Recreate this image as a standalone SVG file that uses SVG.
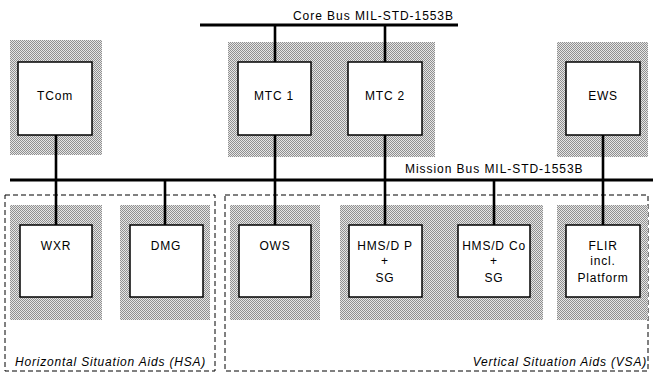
<svg xmlns="http://www.w3.org/2000/svg" width="653" height="373" viewBox="0 0 653 373">
<defs>
<pattern id="dots" width="2" height="2" patternUnits="userSpaceOnUse">
<rect width="2" height="2" fill="#e6e6e6"/>
<rect width="1" height="1" fill="#909090"/>
<rect x="1" y="1" width="1" height="1" fill="#909090"/>
</pattern>
</defs>
<style>
.shade{fill:url(#dots);}
.box{fill:#fff;stroke:#000;stroke-width:1.5;}
.lbl{font-family:"Liberation Sans",Arial,sans-serif;font-size:12px;letter-spacing:0.8px;fill:#000;text-anchor:middle;}
.bus{stroke:#000;stroke-width:3;fill:none;}
.conn{stroke:#000;stroke-width:2.6;fill:none;}
.grp{fill:none;stroke:#000;stroke-width:1;stroke-dasharray:5,3;}
.glbl{font-family:"Liberation Sans",Arial,sans-serif;font-size:12px;letter-spacing:0.8px;font-style:italic;fill:#000;}
.blbl{font-family:"Liberation Sans",Arial,sans-serif;font-size:12px;letter-spacing:0.95px;fill:#000;}
</style>
<rect width="653" height="373" fill="#fff"/>
<g id="groups">
<rect class="grp" x="5" y="195" width="210" height="176"/>
<text class="glbl" x="15" y="366">Horizontal Situation Aids (HSA)</text>
<rect class="grp" x="225" y="195" width="423" height="176"/>
<text class="glbl" x="647" y="366" text-anchor="end">Vertical Situation Aids (VSA)</text>
</g>
<g id="shades">
<rect class="shade" x="10" y="40" width="92" height="115"/>
<rect class="shade" x="228" y="42" width="207" height="115"/>
<rect class="shade" x="557" y="42" width="91" height="115"/>
<rect class="shade" x="10" y="205" width="92" height="115"/>
<rect class="shade" x="120" y="205" width="90" height="115"/>
<rect class="shade" x="230" y="205" width="90" height="115"/>
<rect class="shade" x="340" y="205" width="203" height="115"/>
<rect class="shade" x="557" y="205" width="91" height="115"/>
</g>
<g id="connectors">
<line class="bus" x1="200" y1="25" x2="458" y2="25"/>
<text class="blbl" x="293" y="20">Core Bus MIL-STD-1553B</text>
<line class="bus" x1="10" y1="180" x2="653" y2="180"/>
<text class="blbl" x="405" y="173">Mission Bus MIL-STD-1553B</text>
<line class="conn" x1="56" y1="135" x2="56" y2="225"/>
<line class="conn" x1="165" y1="180" x2="165" y2="225"/>
<line class="conn" x1="275" y1="25" x2="275" y2="225"/>
<line class="conn" x1="385" y1="25" x2="385" y2="225"/>
<line class="conn" x1="494" y1="180" x2="494" y2="225"/>
<line class="conn" x1="603" y1="135" x2="603" y2="225"/>
</g>
<g id="TCom"><rect class="box" x="18" y="62" width="74" height="73"/><text class="lbl" x="55" y="100">TCom</text></g>
<g id="MTC1"><rect class="box" x="238" y="62" width="73" height="73"/><text class="lbl" x="274" y="100">MTC 1</text></g>
<g id="MTC2"><rect class="box" x="348" y="62" width="74" height="73"/><text class="lbl" x="385" y="100">MTC 2</text></g>
<g id="EWS"><rect class="box" x="566" y="62" width="74" height="73"/><text class="lbl" x="603" y="100">EWS</text></g>
<g id="WXR"><rect class="box" x="20" y="225" width="72" height="72"/><text class="lbl" x="56" y="249.5">WXR</text></g>
<g id="DMG"><rect class="box" x="130" y="225" width="73" height="72"/><text class="lbl" x="166" y="249.5">DMG</text></g>
<g id="OWS"><rect class="box" x="239" y="225" width="72" height="72"/><text class="lbl" x="275" y="249.5">OWS</text></g>
<g id="HMSDP"><rect class="box" x="349" y="225" width="73" height="72"/><text class="lbl" x="385" y="249.5">HMS/D P</text><text class="lbl" x="385" y="265">+</text><text class="lbl" x="385" y="281.5">SG</text></g>
<g id="HMSDCo"><rect class="box" x="458" y="225" width="72" height="72"/><text class="lbl" x="494" y="249.5">HMS/D Co</text><text class="lbl" x="494" y="265">+</text><text class="lbl" x="494" y="281.5">SG</text></g>
<g id="FLIR"><rect class="box" x="566" y="225" width="74" height="72"/><text class="lbl" x="603" y="249.5">FLIR</text><text class="lbl" x="603" y="265">incl.</text><text class="lbl" x="603" y="281.5">Platform</text></g>
</svg>
